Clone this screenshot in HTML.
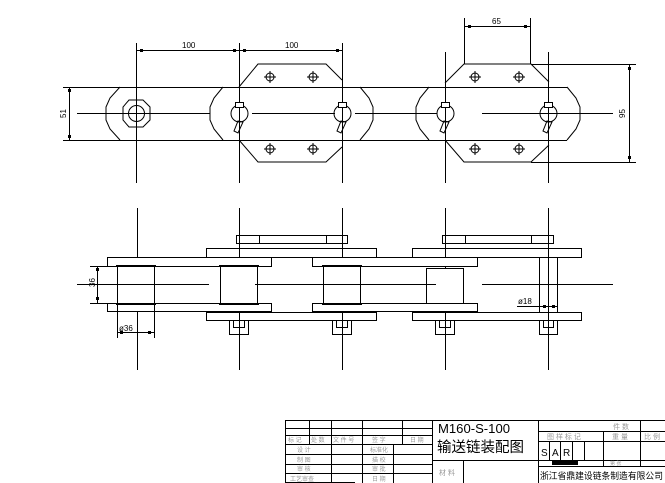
<!DOCTYPE html>
<html><head><meta charset="utf-8"><style>
html,body{margin:0;padding:0;background:#fff}
svg{display:block}
text{font-family:"Liberation Sans","Noto Sans CJK SC",sans-serif}
.g{fill:#999;font-size:6px}
</style></head><body>
<svg width="665" height="483" viewBox="0 0 665 483" xmlns="http://www.w3.org/2000/svg">
<g stroke="#000" stroke-width="1" fill="none" shape-rendering="crispEdges">
<line x1="136.5" y1="43" x2="136.5" y2="183"/>
<line x1="239.5" y1="43" x2="239.5" y2="183"/>
<line x1="342.5" y1="43" x2="342.5" y2="183"/>
<line x1="445.5" y1="52" x2="445.5" y2="183"/>
<line x1="548.5" y1="52" x2="548.5" y2="183"/>
<line x1="136" y1="50.5" x2="342" y2="50.5"/>
<line x1="120" y1="87.5" x2="567" y2="87.5"/>
<line x1="120" y1="140.5" x2="567" y2="140.5"/>
<line x1="77" y1="113.5" x2="210" y2="113.5"/>
<line x1="252" y1="113.5" x2="335" y2="113.5"/>
<line x1="355" y1="113.5" x2="437" y2="113.5"/>
<line x1="482" y1="113.5" x2="613" y2="113.5"/>
<line x1="63" y1="87.5" x2="120" y2="87.5"/>
<line x1="63" y1="140.5" x2="120" y2="140.5"/>
<line x1="69.5" y1="87" x2="69.5" y2="140"/>
<line x1="531" y1="64.5" x2="636" y2="64.5"/>
<line x1="531" y1="162.5" x2="636" y2="162.5"/>
<line x1="629.5" y1="64" x2="629.5" y2="162"/>
<line x1="464.5" y1="18" x2="464.5" y2="64"/>
<line x1="530.5" y1="18" x2="530.5" y2="64"/>
<line x1="464" y1="26.5" x2="531" y2="26.5"/>
</g>
<g stroke="#000" stroke-width="1" fill="none">
<polyline points="120,87 110,98 106,107 106,120 110,129 120,140"/>
<polyline points="223,87 214,98 210,107 210,120 214,129 223,140"/>
<polyline points="360,87 369,98 373,107 373,120 369,129 360,140"/>
<polyline points="429,87 420,98 416,107 416,120 420,129 429,140"/>
<polyline points="567,87 576,98 580,107 580,120 576,129 567,140"/>
<polyline points="239,87 258,64 326,64 342,80"/>
<polyline points="239,140 258,162 326,162 342,147"/>
<polyline points="445,83 464,64 531,64 549,82"/>
<polyline points="445,140 464,162 531,162 549,145"/>
<polygon points="129,100 143,100 150,107 150,120 143,127 129,127 123,120 123,107"/>
<circle cx="136.5" cy="113.5" r="8"/>
<g id="pin">
<circle cx="239.5" cy="113.5" r="8.5"/>
<rect x="235.5" y="102.5" width="8" height="5" fill="#fff"/>
<polygon points="238,121 243,122 238,133 234,131"/>
</g>
<use href="#pin" x="103"/>
<use href="#pin" x="206"/>
<use href="#pin" x="309"/>
<g id="h"><circle cx="270" cy="77" r="4"/><line x1="264" y1="77" x2="276" y2="77"/><line x1="270" y1="71" x2="270" y2="83"/></g>
<use href="#h" x="43"/><use href="#h" x="205"/><use href="#h" x="249"/>
<use href="#h" y="72"/><use href="#h" x="43" y="72"/><use href="#h" x="205" y="72"/><use href="#h" x="249" y="72"/>
</g>
<g fill="#000">
<rect x="140" y="49" width="3" height="3"/><rect x="233" y="49" width="3" height="3"/><rect x="243" y="49" width="3" height="3"/><rect x="336" y="49" width="3" height="3"/>
<rect x="68" y="89" width="3" height="3"/><rect x="68" y="135" width="3" height="3"/>
<rect x="628" y="67" width="3" height="3"/><rect x="628" y="156" width="3" height="3"/>
<rect x="468" y="25" width="3" height="3"/><rect x="524" y="25" width="3" height="3"/>
</g>
<g font-size="8" fill="#000">
<text x="182" y="48">100</text><text x="285" y="48">100</text>
<text x="492" y="24">65</text>
<text transform="translate(66,118) rotate(-90)">51</text>
<text transform="translate(625,118) rotate(-90)">95</text>
</g>

<g stroke="#000" stroke-width="1" fill="none" shape-rendering="crispEdges">
<line x1="137.5" y1="208" x2="137.5" y2="370"/>
<line x1="239.5" y1="208" x2="239.5" y2="370"/>
<line x1="342.5" y1="208" x2="342.5" y2="370"/>
<line x1="445.5" y1="208" x2="445.5" y2="370"/>
<line x1="548.5" y1="208" x2="548.5" y2="370"/>
<rect x="236.5" y="235.5" width="111" height="8"/><line x1="259.5" y1="235" x2="259.5" y2="243"/><line x1="326.5" y1="235" x2="326.5" y2="243"/>
<rect x="442.5" y="235.5" width="111" height="8"/><line x1="465.5" y1="235" x2="465.5" y2="243"/><line x1="531.5" y1="235" x2="531.5" y2="243"/>
<rect x="206.5" y="248.5" width="170" height="9"/>
<rect x="412.5" y="248.5" width="169" height="9"/>
<rect x="107.5" y="257.5" width="164" height="9" fill="#fff"/>
<rect x="312.5" y="257.5" width="165" height="9" fill="#fff"/>
<rect x="107.5" y="303.5" width="164" height="8" fill="#fff"/>
<rect x="312.5" y="303.5" width="165" height="8" fill="#fff"/>
<rect x="206.5" y="312.5" width="170" height="8"/>
<rect x="412.5" y="312.5" width="169" height="8"/>
<rect x="117.5" y="266.5" width="37" height="37" fill="#fff"/>
<rect x="220.5" y="266.5" width="37" height="37" fill="#fff"/>
<rect x="323.5" y="266.5" width="37" height="37" fill="#fff"/>
<rect x="426.5" y="268.5" width="37" height="35" fill="#fff"/>
<line x1="539.5" y1="257" x2="539.5" y2="312"/><line x1="557.5" y1="257" x2="557.5" y2="312"/>
<path d="M229.5 321V334.5H248.5V321M233.5 321V327.5H244.5V321"/>
<path d="M332.5 321V334.5H351.5V321M336.5 321V327.5H347.5V321"/>
<path d="M435.5 321V334.5H454.5V321M439.5 321V327.5H450.5V321"/>
<path d="M539.5 321V334.5H557.5V321M543.5 321V327.5H553.5V321"/>
<line x1="77" y1="284.5" x2="209" y2="284.5"/>
<line x1="255" y1="284.5" x2="436" y2="284.5"/>
<line x1="482" y1="284.5" x2="613" y2="284.5"/>
<line x1="90" y1="266.5" x2="117" y2="266.5"/><line x1="90" y1="303.5" x2="117" y2="303.5"/>
<line x1="97.5" y1="266" x2="97.5" y2="303"/>
<line x1="117.5" y1="304" x2="117.5" y2="338"/><line x1="154.5" y1="304" x2="154.5" y2="338"/>
<line x1="117" y1="332.5" x2="154" y2="332.5"/>
<line x1="517" y1="306.5" x2="557" y2="306.5"/>
</g>
<g fill="#000">
<rect x="116" y="265" width="40" height="2"/><rect x="116" y="303" width="40" height="2"/>
<rect x="219" y="265" width="40" height="2"/><rect x="219" y="303" width="40" height="2"/>
<rect x="322" y="265" width="40" height="2"/><rect x="322" y="303" width="40" height="2"/>
<rect x="412" y="311" width="66" height="2"/>
<rect x="96" y="268" width="3" height="3"/><rect x="96" y="297" width="3" height="3"/>
<rect x="120" y="331" width="3" height="3"/><rect x="148" y="331" width="3" height="3"/>
<rect x="543" y="305" width="3" height="3"/><rect x="552" y="305" width="3" height="3"/>
</g>
<g font-size="8" fill="#000">
<text transform="translate(95,287) rotate(-90)">36</text>
<text x="119" y="331">ø36</text>
<text x="518" y="304">ø18</text>
</g>

<g stroke="#000" stroke-width="1" fill="none" shape-rendering="crispEdges">
<line x1="285.5" y1="420" x2="285.5" y2="483"/>
<line x1="285" y1="420.5" x2="665" y2="420.5"/>
<line x1="285" y1="428.5" x2="432" y2="428.5"/>
<line x1="285" y1="435.5" x2="432" y2="435.5"/>
<line x1="285" y1="444.5" x2="432" y2="444.5"/>
<line x1="285" y1="454.5" x2="432" y2="454.5"/>
<line x1="285" y1="464.5" x2="432" y2="464.5"/>
<line x1="285" y1="473.5" x2="432" y2="473.5"/>
<line x1="309.5" y1="420" x2="309.5" y2="444"/>
<line x1="331.5" y1="420" x2="331.5" y2="483"/>
<line x1="362.5" y1="420" x2="362.5" y2="483"/>
<line x1="402.5" y1="420" x2="402.5" y2="444"/>
<line x1="393.5" y1="444" x2="393.5" y2="483"/>
<line x1="432.5" y1="420" x2="432.5" y2="483"/>
<line x1="432" y1="460.5" x2="538" y2="460.5"/>
<line x1="463.5" y1="460" x2="463.5" y2="483"/>
<line x1="538.5" y1="420" x2="538.5" y2="483"/>
<line x1="538" y1="431.5" x2="665" y2="431.5"/>
<line x1="538" y1="441.5" x2="665" y2="441.5"/>
<line x1="538" y1="460.5" x2="665" y2="460.5"/>
<line x1="538" y1="466.5" x2="665" y2="466.5"/>
<line x1="603.5" y1="431" x2="603.5" y2="466"/>
<line x1="640.5" y1="420" x2="640.5" y2="466"/>
<line x1="549.5" y1="441" x2="549.5" y2="460"/>
<line x1="560.5" y1="441" x2="560.5" y2="460"/>
<line x1="572.5" y1="441" x2="572.5" y2="460"/>
<line x1="584.5" y1="441" x2="584.5" y2="460"/>
<line x1="285" y1="482.5" x2="355" y2="482.5"/>
</g>
<rect x="552" y="461" width="26" height="4" fill="#000"/>
<g class="g">
<text x="288" y="442">标 记</text><text x="311" y="442">处 数</text><text x="333" y="442">文 件 号</text><text x="372" y="442">签 字</text><text x="410" y="442">日 期</text>
<text x="297" y="452">设 计</text><text x="370" y="452">标准化</text>
<text x="297" y="462">制 图</text><text x="372" y="462">描 校</text>
<text x="297" y="471">审 核</text><text x="372" y="471">审 批</text>
<text x="290" y="481">工艺审查</text><text x="372" y="481">日 期</text>
<text x="439" y="475" font-size="7">材 料</text>
<text x="613" y="429" font-size="7">件 数</text>
<text x="547" y="439" font-size="7">图 样 标 记</text><text x="612" y="439" font-size="7">重 量</text><text x="644" y="439" font-size="7">比 例</text>
<text x="610" y="465" font-size="5">第 张</text>
</g>
<g fill="#000">
<text x="438" y="433" font-size="13" font-family="Liberation Mono, monospace" textLength="72" lengthAdjust="spacingAndGlyphs">M160-S-100</text>
<text x="437" y="452" font-size="14.5">输送链装配图</text>
<text x="541" y="456" font-size="10">S</text><text x="552" y="456" font-size="10">A</text><text x="563" y="456" font-size="10">R</text>
<text x="540" y="479" font-size="9" textLength="123" lengthAdjust="spacingAndGlyphs">浙江省鼎建设链条制造有限公司</text>
</g>
</svg>
</body></html>
